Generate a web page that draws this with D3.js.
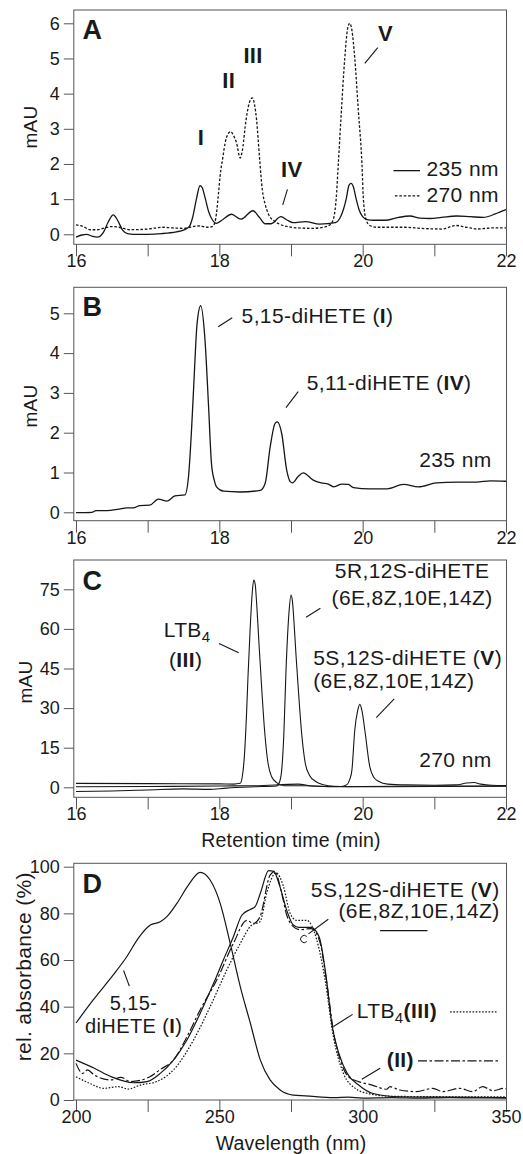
<!DOCTYPE html>
<html>
<head>
<meta charset="utf-8">
<script src="https://cdn.jsdelivr.net/npm/d3@7"></script>
<style>
  body { margin: 0; background: #fff; }
  text { font-family: "Liberation Sans", Arial, Helvetica, sans-serif; fill: #1a1a1a; }
</style>
</head>
<body>
<script>
// ticks
var timeTicks = [16, 17, 18, 19, 20, 21, 22];
var timeLabels = [16, 18, 20, 22];
var waveTicks = [200, 225, 250, 275, 300, 325, 350];
var waveLabels = [200, 250, 300, 350];
var yTicksA = [0, 1, 2, 3, 4, 5, 6];
var yTicksB = [0, 1, 2, 3, 4, 5];
var yTicksC = [0, 15, 30, 45, 60, 75];
var yTicksD = [0, 20, 40, 60, 80, 100];

// panel A : [retention time (min), mAU]
var a235 = [[16,-0.08],[16.08,-0.02],[16.15,0],[16.22,-0.05],[16.3,-0.08],[16.38,0.05],[16.45,0.35],[16.52,0.55],[16.58,0.4],[16.65,0.12],[16.72,0.02],[16.8,0],[17,0],[17.2,0.02],[17.4,0.07],[17.5,0.12],[17.58,0.22],[17.63,0.5],[17.68,1.0],[17.73,1.38],[17.76,1.33],[17.8,1.05],[17.85,0.65],[17.9,0.42],[17.96,0.31],[18.05,0.42],[18.17,0.57],[18.3,0.43],[18.47,0.67],[18.56,0.48],[18.64,0.3],[18.72,0.3],[18.86,0.5],[18.95,0.4],[19.03,0.33],[19.2,0.36],[19.4,0.29],[19.62,0.33],[19.68,0.45],[19.73,0.7],[19.77,1.0],[19.81,1.4],[19.84,1.45],[19.87,1.35],[19.91,1.0],[19.95,0.7],[20.0,0.5],[20.06,0.42],[20.15,0.4],[20.33,0.4],[20.5,0.48],[20.66,0.52],[20.8,0.46],[20.94,0.45],[21.1,0.48],[21.31,0.52],[21.5,0.5],[21.68,0.48],[21.85,0.58],[21.92,0.64],[22,0.7]];
var a270 = [[16,0.27],[16.1,0.22],[16.2,0.13],[16.3,0.13],[16.4,0.18],[16.5,0.22],[16.6,0.2],[16.75,0.13],[17,0.15],[17.2,0.2],[17.35,0.18],[17.5,0.17],[17.7,0.24],[17.85,0.2],[17.9,0.22],[17.94,0.35],[17.96,0.6],[17.99,1.2],[18.01,1.64],[18.05,2.2],[18.08,2.59],[18.12,2.85],[18.16,2.92],[18.2,2.8],[18.24,2.6],[18.29,2.17],[18.33,2.5],[18.36,3.05],[18.42,3.75],[18.46,3.88],[18.49,3.7],[18.52,3.25],[18.56,2.2],[18.6,1.26],[18.64,0.85],[18.68,0.6],[18.77,0.37],[18.85,0.28],[18.95,0.22],[19.1,0.18],[19.3,0.17],[19.45,0.2],[19.55,0.28],[19.6,0.5],[19.63,1.0],[19.66,2.0],[19.7,3.4],[19.75,5.0],[19.79,5.85],[19.82,6.0],[19.85,5.8],[19.89,5.0],[19.94,3.5],[19.99,2.0],[20.01,1.0],[20.05,0.4],[20.1,0.25],[20.2,0.2],[20.4,0.2],[20.6,0.2],[20.8,0.17],[21.1,0.15],[21.3,0.25],[21.45,0.2],[21.6,0.15],[21.8,0.18],[22,0.18]];

// panel B
var b235 = [[16,-0.01],[16.22,0],[16.28,0.04],[16.43,0.04],[16.6,0.08],[16.71,0.11],[16.8,0.11],[16.89,0.17],[17.03,0.18],[17.15,0.33],[17.27,0.28],[17.38,0.41],[17.52,0.44],[17.57,0.9],[17.61,2.0],[17.64,3.07],[17.69,4.75],[17.74,5.19],[17.8,4.33],[17.85,2.65],[17.89,1.23],[17.93,0.8],[17.96,0.64],[18.06,0.53],[18.29,0.51],[18.57,0.55],[18.64,0.73],[18.71,1.65],[18.78,2.24],[18.81,2.27],[18.87,1.98],[18.94,1.06],[18.99,0.77],[19.02,0.74],[19.1,0.9],[19.17,0.99],[19.31,0.81],[19.42,0.74],[19.52,0.71],[19.6,0.64],[19.71,0.71],[19.8,0.7],[19.87,0.62],[20.1,0.59],[20.34,0.59],[20.57,0.7],[20.78,0.64],[21.03,0.74],[21.31,0.76],[21.59,0.76],[21.78,0.79],[22,0.78]];

// panel C : three standards at 270 nm
var cLTB4 = [[16,1.5],[17,1.4],[18,1.3],[18.2,1.2],[18.29,1.5],[18.32,4],[18.35,12],[18.38,28],[18.4,42],[18.43,60],[18.46,74],[18.48,78.5],[18.5,77],[18.52,70],[18.55,56],[18.59,38],[18.63,22],[18.68,9],[18.73,4],[18.8,1.8],[18.9,0.6],[19.2,0.6],[19.6,0.2],[20,0.3],[21,0.5],[22,0.5]];
var c5R12S = [[16,-1.6],[16.5,-1.4],[17,-1.0],[17.5,-0.6],[17.85,-0.8],[18.1,-0.3],[18.5,0.2],[18.8,0.5],[18.84,2],[18.87,6.5],[18.9,20],[18.93,44],[18.97,65.5],[19.0,72.8],[19.02,70.5],[19.04,63.4],[19.07,50],[19.1,38],[19.15,20],[19.2,9],[19.26,4.5],[19.34,2.3],[19.45,1],[19.6,0.4],[20,0.2],[21,0.3],[22,0.4]];
var c5S12S = [[16,0.2],[17,0.3],[18,0.5],[18.5,0.6],[19.1,1.2],[19.3,0.5],[19.7,0.3],[19.78,1],[19.82,3],[19.85,6.5],[19.89,21.7],[19.93,29],[19.96,31.4],[19.99,29],[20.03,21.7],[20.1,7.7],[20.15,4],[20.22,2.3],[20.35,1.2],[20.6,0.9],[21,0.8],[21.3,0.9],[21.45,1.6],[21.55,1.8],[21.65,1.2],[21.8,0.8],[22,0.7]];

// panel D : UV spectra [wavelength (nm), rel. absorbance (%)]
var dI = [[200,33],[206,42.9],[213,53.6],[217.7,61.4],[221.7,69.3],[225.8,74.9],[229.4,76.4],[231.7,78.6],[235.2,84.3],[239.2,92.1],[243.3,97.6],[246.8,94.3],[250.3,84.3],[253.8,67.1],[257.3,48.6],[260.8,33],[264.3,17.1],[267.7,8.6],[271.2,4.3],[275.8,2.1],[280,1.8],[290,1.0],[295,1.2],[300,0.8],[310,1.0],[320,0.8],[330,1.0],[340,0.9],[350,0.8]];
var dV = [[200,17.1],[206.4,13.6],[212.2,10],[220.1,7.4],[224.8,7.9],[229.4,11.4],[234,17.1],[238.7,25.7],[243.3,37.1],[248,50],[251.4,60],[254.9,70],[257.9,79.3],[260.8,81.7],[262.5,82.9],[264.3,88.6],[267.2,98.3],[269,98],[271,92],[273.5,81.4],[275.8,75],[277.8,74],[281.9,74],[284.8,70],[287.1,54.3],[289.4,31.4],[291.7,20],[294.6,11.4],[298.6,6.4],[303.3,2.9],[312.9,1.4],[330,1.2],[350,1.0]];
var dLTB4 = [[200,10],[205,7],[209.6,5],[214.8,5.7],[218.3,4.7],[222.4,6.4],[228.2,7.9],[234,12.9],[241,25.7],[246.8,40],[252.6,55.7],[257.3,67.1],[261.3,75],[264.2,76.4],[266.5,88.6],[269.8,97.4],[272.4,91.4],[274.7,80],[277,77],[280.5,77],[284,68.6],[286.9,51.4],[289.8,27],[293.3,11.4],[297.4,5],[301.5,2.9],[310,1.6],[330,1.4],[350,1.4]];
var dII = [[200,15.7],[202.3,11.4],[204,12.9],[206.4,10.7],[212.2,8.6],[215.7,9.7],[219,7.9],[225.8,10],[229.4,13.1],[234,17.1],[238.7,27.1],[243.3,38.6],[249.1,51.4],[254.9,67.1],[259.6,77],[261.9,75.7],[264.2,78.6],[267.7,96.4],[269.4,98],[271.5,90],[273.5,79.3],[275.8,74.3],[278,73],[282,73.5],[285,68],[287.5,50],[290,28],[292.5,16],[295,10],[298.6,7.9],[303.3,6.4],[308.4,4.6],[309.5,5.7],[312.9,4.3],[318.7,3.6],[324.5,5],[328,3.6],[333.8,5],[338.4,3.6],[341.9,5.7],[345.4,4],[349.4,5],[350,4.8]];

var W = 523, H = 1154;
var frameL = 73.8, frameR = 506.5;
var ink = "#161616";

var svg = d3.select("body").append("svg").attr("width", W).attr("height", H);

function panel(o){
  var g = svg.append("g");
  var x = d3.scaleLinear().domain(o.xDomain).range([76, 506]);
  var y = d3.scaleLinear().domain(o.yDomain).range(o.yRange);

  g.append("clipPath").attr("id", "clip" + o.id)
    .append("rect").attr("x", frameL).attr("y", o.top).attr("width", frameR - frameL).attr("height", o.bottom - o.top);

  var xa = g.append("g").attr("transform", "translate(0," + o.bottom + ")")
    .call(d3.axisBottom(x).tickValues(o.xTicks).tickSize(12)
      .tickFormat(d => o.xLabels.indexOf(d) > -1 ? d : ""));
  xa.select(".domain").remove();
  xa.selectAll("line").attr("stroke", "#555");
  xa.selectAll("text").attr("y", 23).attr("dy", 0).style("font-size", "18px").attr("fill", ink);

  var ya = g.append("g").attr("transform", "translate(" + frameL + ",0)")
    .call(d3.axisLeft(y).tickValues(o.yTicks).tickSize(10).tickPadding(4).tickFormat(d3.format("d")));
  ya.select(".domain").remove();
  ya.selectAll("line").attr("stroke", "#555");
  ya.selectAll("text").style("font-size", "18px").attr("fill", ink);

  g.append("rect").attr("x", frameL).attr("y", o.top).attr("width", frameR - frameL).attr("height", o.bottom - o.top)
    .attr("fill", "none").attr("stroke", "#555").attr("stroke-width", 1);

  g.append("text").attr("transform", "translate(" + o.yTitleX + "," + o.yTitleY + ") rotate(-90)")
    .attr("text-anchor", "middle").style("font-size", (o.yTitleSize || 19) + "px").style("letter-spacing", "0.3px").text(o.yTitle);

  if (o.xTitle) {
    g.append("text").attr("x", (76 + 506) / 2).attr("y", o.bottom + 49.5)
      .attr("text-anchor", "middle").style("font-size", "19.5px").style("letter-spacing", "0.2px").text(o.xTitle);
  }

  g.append("text").attr("x", 82.5).attr("y", o.letterY).style("font-size", "27px").style("font-weight", "bold").text(o.letter);

  return {g: g, x: x, y: y, clip: "url(#clip" + o.id + ")"};
}

var line = (p) => d3.line().x(d => p.x(d[0])).y(d => p.y(d[1])).curve(d3.curveMonotoneX);

function trace(p, data, dash, w){
  p.g.append("path").datum(data).attr("clip-path", p.clip)
    .attr("d", line(p)).attr("fill", "none").attr("stroke", ink)
    .attr("stroke-width", w || 1.3).attr("stroke-dasharray", dash || null);
}

// text with optional bold / subscript parts, positioned in data units
function label(p, xv, yv, parts, anchor, size, bold){
  var t = p.g.append("text").attr("x", p.x(xv)).attr("y", p.y(yv))
    .attr("text-anchor", anchor || "start")
    .style("font-size", (size || 21) + "px")
    .style("letter-spacing", bold ? "0.3px" : "0.4px")
    .style("font-weight", bold ? "bold" : null);
  var shift = 0;
  parts.forEach(function(d){
    var s = t.append("tspan");
    if (typeof d === "string") { s.text(d); if (shift) { s.attr("dy", -shift); shift = 0; } }
    else if (d.b) { s.text(d.b).style("font-weight", "bold"); if (shift) { s.attr("dy", -shift); shift = 0; } }
    else if (d.sub) { s.text(d.sub).style("font-size", "15px").attr("dy", 5); shift = 5; }
  });
}

function leader(p, x1, y1, x2, y2){
  p.g.append("line").attr("x1", p.x(x1)).attr("y1", p.y(y1)).attr("x2", p.x(x2)).attr("y2", p.y(y2))
    .attr("stroke", ink).attr("stroke-width", 1.1);
}

function key(p, x1, x2, yv, dash){
  p.g.append("line").attr("x1", p.x(x1)).attr("x2", p.x(x2)).attr("y1", p.y(yv)).attr("y2", p.y(yv))
    .attr("stroke", ink).attr("stroke-width", 1.3).attr("stroke-dasharray", dash || null);
}

// ---- A
var A = panel({id: "A", xDomain: [16, 22], yDomain: [0, 6], yRange: [234.3, 23.3], top: 10, bottom: 244.3,
  xTicks: timeTicks, xLabels: timeLabels, yTicks: yTicksA, yTitle: "mAU", yTitleX: 37, yTitleY: 127, letter: "A", letterY: 39.3});
trace(A, a270, "2.6,1.8");
trace(A, a235);
label(A, 17.744, 2.55, ["I"], "middle", 22, true);
label(A, 18.13, 4.15, ["II"], "middle", 22, true);
label(A, 18.47, 4.88, ["III"], "middle", 22, true);
label(A, 19.01, 1.64, ["IV"], "middle", 22, true);
label(A, 20.32, 5.5, ["V"], "middle", 22, true);
leader(A, 18.95, 1.28, 18.885, 0.835);
leader(A, 20.21, 5.31, 20.03, 4.86);
key(A, 20.43, 20.8, 1.81);
key(A, 20.45, 20.8, 1.09, "2.6,1.8");
label(A, 20.89, 1.65, ["235 nm"]);
label(A, 20.89, 0.93, ["270 nm"]);

// ---- B
var B = panel({id: "B", xDomain: [16, 22], yDomain: [0, 5], yRange: [512.3, 313.3], top: 287.3, bottom: 520.7,
  xTicks: timeTicks, xLabels: timeLabels, yTicks: yTicksB, yTitle: "mAU", yTitleX: 37, yTitleY: 406, letter: "B", letterY: 316});
trace(B, b235);
label(B, 18.31, 4.75, ["5,15-diHETE (", {b: "I"}, ")"]);
leader(B, 18.18, 4.89, 17.985, 4.66);
label(B, 19.22, 3.07, ["5,11-diHETE (", {b: "IV"}, ")"]);
leader(B, 19.10, 3.03, 18.93, 2.63);
label(B, 21.8, 1.15, ["235 nm"], "end");

// ---- C
var C = panel({id: "C", xDomain: [16, 22], yDomain: [0, 75], yRange: [787.3, 589.3], top: 560, bottom: 797.3,
  xTicks: timeTicks, xLabels: timeLabels, yTicks: yTicksC, yTitle: "mAU", yTitleX: 32, yTitleY: 682, letter: "C", letterY: 590,
  xTitle: "Retention time (min)"});
trace(C, cLTB4, null, 1.1);
trace(C, c5R12S, null, 1.1);
trace(C, c5S12S, null, 1.1);
label(C, 17.55, 57, ["LTB", {sub: "4"}], "middle");
label(C, 17.53, 45.7, ["(", {b: "III"}, ")"], "middle");
leader(C, 17.995, 54.5, 18.27, 51);
label(C, 20.69, 79.2, ["5R,12S-diHETE"], "middle");
label(C, 20.69, 69, ["(6E,8Z,10E,14Z)"], "middle");
leader(C, 19.41, 67.8, 19.21, 64.4);
label(C, 19.31, 46.3, ["5S,12S-diHETE (", {b: "V"}, ")"]);
label(C, 19.31, 37.5, ["(6E,8Z,10E,14Z)"]);
leader(C, 20.44, 33.5, 20.19, 26.4);
label(C, 21.8, 7.8, ["270 nm"], "end");

// ---- D
var D = panel({id: "D", xDomain: [200, 350], yDomain: [0, 100], yRange: [1100, 866.7], top: 863.3, bottom: 1100,
  xTicks: waveTicks, xLabels: waveLabels, yTicks: yTicksD, yTitle: "rel. absorbance (%)", yTitleSize: 21, yTitleX: 31, yTitleY: 966.7,
  letter: "D", letterY: 893.3, xTitle: "Wavelength (nm)"});
trace(D, dI, null, 1.2);
trace(D, dLTB4, "1.6,1.6", 1.2);
trace(D, dII, "9,2.5,2.5,2.5", 1.2);
trace(D, dV, null, 1.2);
label(D, 220.1, 38.6, ["5,15-"], "middle", 20);
label(D, 220.1, 28.6, ["diHETE (", {b: "I"}, ")"], "middle", 20);
leader(D, 216.6, 55.5, 218.6, 48.8);
label(D, 347.8, 87.1, ["5S,12S-diHETE (", {b: "V"}, ")"], "end");
label(D, 347.8, 77.9, ["(6E,8Z,10E,14Z)"], "end");
key(D, 306.1, 322.6, 72.6);
leader(D, 288.0, 77.5, 281.1, 71.2);
var cMark = d3.path();
cMark.arc(D.x(279.6), D.y(69), 3.6, -Math.PI / 4, Math.PI / 4, true);
D.g.append("path").attr("d", cMark.toString()).attr("fill", "none").attr("stroke", ink).attr("stroke-width", 1);
label(D, 297.9, 35, ["LTB", {sub: "4"}, {b: "(III)"}]);
leader(D, 296.5, 36.7, 289.8, 31.5);
key(D, 330.5, 346.7, 37.8, "1.6,1.6");
label(D, 308.4, 14.3, [{b: "(II)"}]);
leader(D, 306.1, 13.6, 299.7, 8.9);
key(D, 319.3, 347.9, 16.8, "9,2.5,2.5,2.5");
</script>
</body>
</html>
